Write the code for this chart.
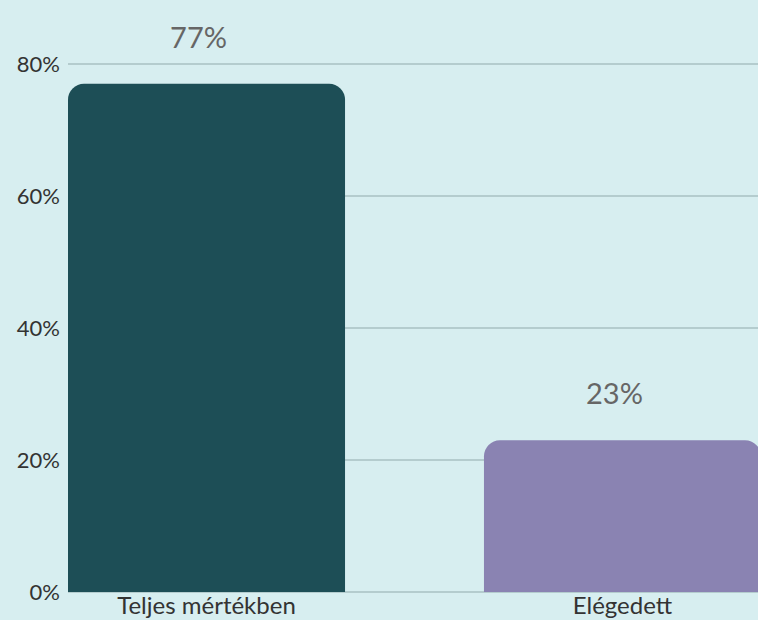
<!DOCTYPE html>
<html lang="hu">
  <head>
    <meta charset="UTF-8" />
    <title>Elégedettség</title>
    <script src="https://d3js.org/d3.v7.min.js"></script>
    <style>
      body {
        margin: 0;
        background: #d7eef0;
        font-family: Lato, "Open Sans", sans-serif;
      }
      .tick-label {
        font-size: 22px;
        fill: #333;
      }
      .cat-label {
        font-size: 24px;
        fill: #333;
      }
      .value-label {
        font-family: Lato, sans-serif;
        font-size: 29px;
        fill: #666;
      }
      .grid-line {
        stroke: #a9c0c3;
        stroke-width: 1.5px;
      }
    </style>
  </head>
  <body>
    <div id="chart"></div>
    <script>
      const categories = ["Teljes mértékben", "Elégedett"];
      const values = [77, 23];
      const tickValues = [0, 20, 40, 60, 80];
      const colors = ["#1d4e56", "#8a83b2"];

      const width = 758;
      const height = 620;
      const margin = { top: 64, right: 0, bottom: 28, left: 68 };

      const svg = d3
        .select("#chart")
        .append("svg")
        .attr("width", width)
        .attr("height", height)
        .style("display", "block");

      const x = d3
        .scaleBand()
        .domain(categories)
        .range([margin.left, margin.left + 693])
        .paddingInner(0.334)
        .paddingOuter(0);

      const y = d3
        .scaleLinear()
        .domain([0, 80])
        .range([height - margin.bottom, margin.top]);

      // grid lines + tick labels
      svg
        .selectAll(".grid-line")
        .data(tickValues)
        .enter()
        .append("line")
        .attr("class", "grid-line")
        .attr("x1", margin.left)
        .attr("x2", width)
        .attr("y1", (d) => y(d))
        .attr("y2", (d) => y(d));

      svg
        .selectAll(".tick-label")
        .data(tickValues)
        .enter()
        .append("text")
        .attr("class", "tick-label")
        .attr("x", margin.left - 8)
        .attr("y", (d) => y(d))
        .attr("dy", "0.35em")
        .attr("text-anchor", "end")
        .text((d) => d + "%");

      // bars with rounded top corners
      const r = 16;
      function barPath(x0, y0, w, h) {
        const p = d3.path();
        p.moveTo(x0, y0 + h);
        p.lineTo(x0, y0 + r);
        p.arcTo(x0, y0, x0 + r, y0, r);
        p.lineTo(x0 + w - r, y0);
        p.arcTo(x0 + w, y0, x0 + w, y0 + r, r);
        p.lineTo(x0 + w, y0 + h);
        p.closePath();
        return p.toString();
      }

      const data = categories.map((c, i) => ({ cat: c, value: values[i], color: colors[i] }));

      svg
        .selectAll(".bar")
        .data(data)
        .enter()
        .append("path")
        .attr("class", "bar")
        .attr("fill", (d) => d.color)
        .attr("d", (d) => barPath(x(d.cat), y(d.value), x.bandwidth(), y(0) - y(d.value)));

      svg
        .selectAll(".value-label")
        .data(data)
        .enter()
        .append("text")
        .attr("class", "value-label")
        .attr("x", (d) => x(d.cat) + x.bandwidth() / 2 - 8)
        .attr("y", (d) => y(d.value) - 36)
        .attr("text-anchor", "middle")
        .text((d) => d.value + "%");

      svg
        .selectAll(".cat-label")
        .data(data)
        .enter()
        .append("text")
        .attr("class", "cat-label")
        .attr("x", (d) => x(d.cat) + x.bandwidth() / 2)
        .attr("y", y(0) + 22)
        .attr("text-anchor", "middle")
        .text((d) => d.cat);
    </script>
  </body>
</html>
